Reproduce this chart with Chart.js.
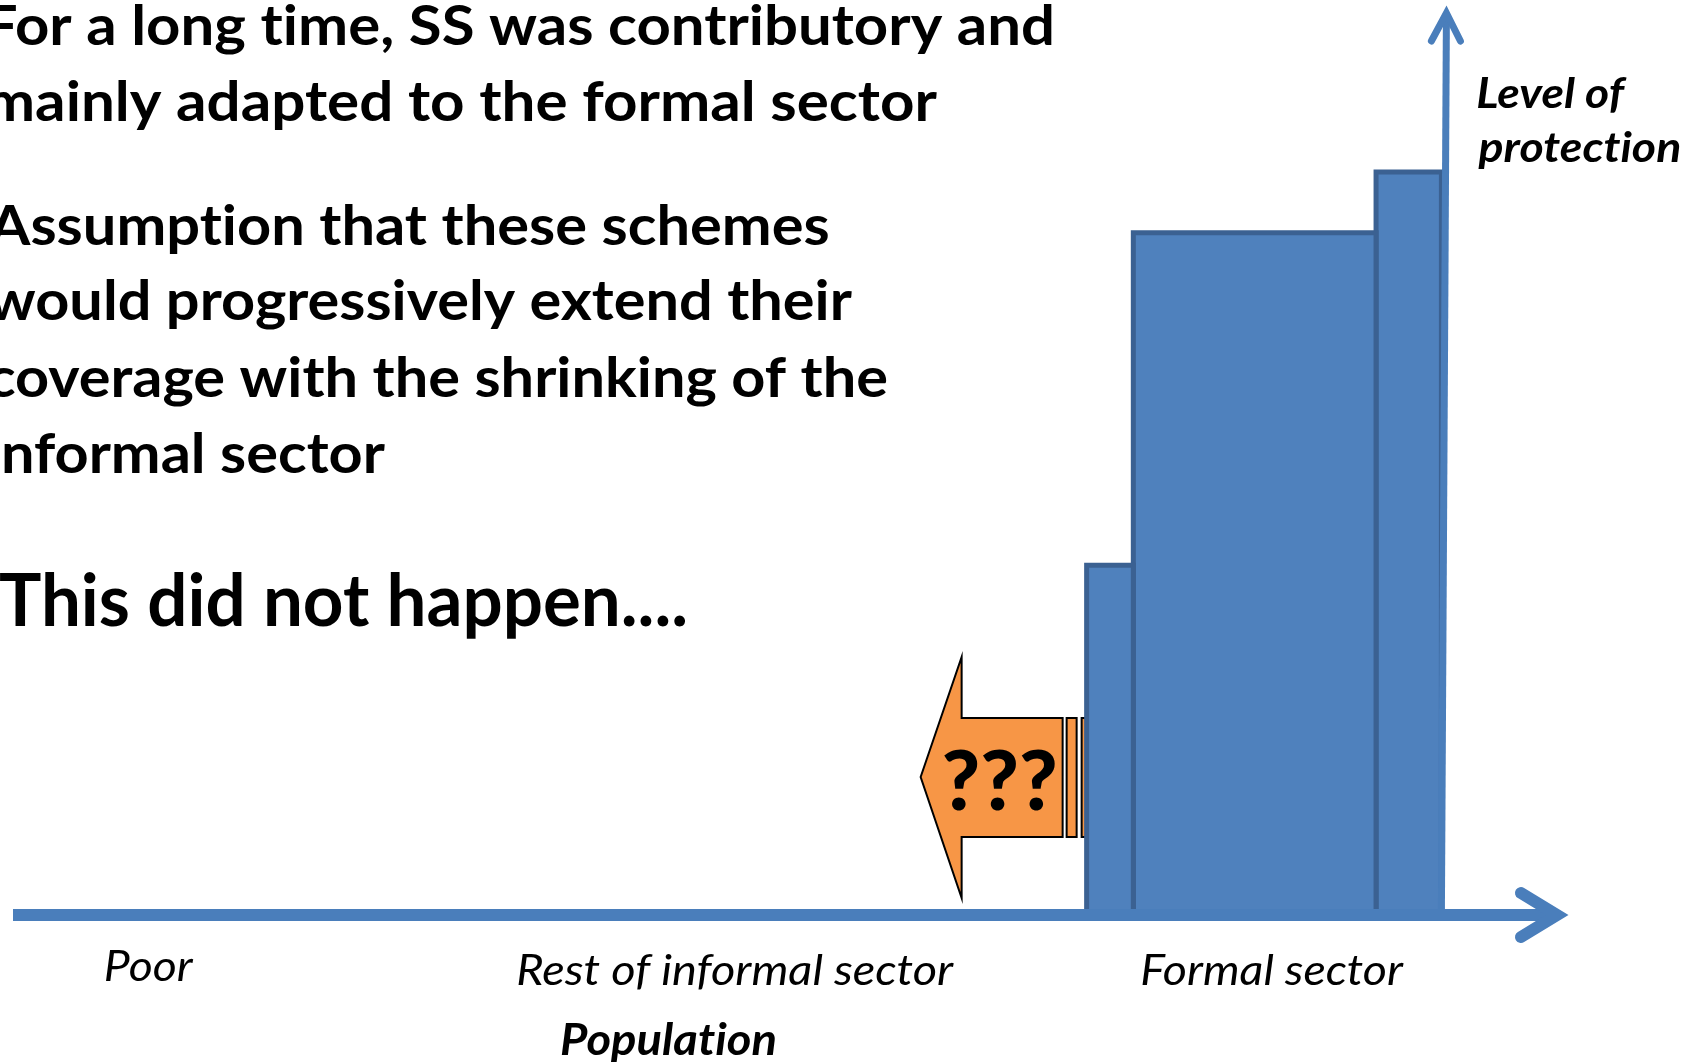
<!DOCTYPE html>
<html lang="en">
<head>
<meta charset="UTF-8">
<title>Level of protection</title>
<script src="https://cdn.jsdelivr.net/npm/chart.js"></script>
<style>
  html, body { margin: 0; padding: 0; background: #fff; overflow: hidden; }
  #wrap { width: 1697px; height: 1062px; }
</style>
</head>
<body>
<div id="wrap"><canvas id="chart" width="1697" height="1062"></canvas></div>
<script>
// population groups along the horizontal axis
const groups = ['Poor', 'Rest of informal sector', 'Formal sector'];
const groupCenters = [8.8, 46.5, 81.0];
const xTitle = 'Population';
const yTitle = ['Level of', 'protection'];

// contributory schemes of the formal sector: edges on the population axis and level of protection
const schemeEdges = [69, 72, 87.6, 91.8];
const schemeLevels = [38.6, 75.3, 82];

const bullets = [
  'For a long time, SS was contributory and',
  'mainly adapted to the formal sector',
  'Assumption that these schemes',
  'would progressively extend their',
  'coverage with the shrinking of the',
  'informal sector'
];
const conclusion = 'This did not happen....';
const arrowText = '???';

const BLUE = '#4F81BD';
const BLUE_DARK = '#3B6192';
const AXIS = '#4A7EBB';

// one closed block per scheme, drawn as a filled line on the linear scales
const datasets = schemeLevels.map((lvl, i) => ({
  data: [
    { x: schemeEdges[i], y: 0 },
    { x: schemeEdges[i], y: lvl },
    { x: schemeEdges[i + 1], y: lvl },
    { x: schemeEdges[i + 1], y: 0 }
  ],
  fill: 'origin',
  backgroundColor: BLUE,
  borderColor: BLUE_DARK,
  borderWidth: 5,
  borderJoinStyle: 'miter',
  pointRadius: 0,
  tension: 0
}));

// draws text so that its ink spans exactly `width` pixels starting at `left`
function fitText(ctx, text, left, baseline, width, font) {
  ctx.save();
  ctx.font = font;
  ctx.textAlign = 'left';
  ctx.textBaseline = 'alphabetic';
  // no "ti" ligatures
  if ('textRendering' in ctx) ctx.textRendering = 'optimizeSpeed';
  if ('letterSpacing' in ctx) ctx.letterSpacing = '0.01px';
  const m = ctx.measureText(text);
  const ink = m.actualBoundingBoxLeft + m.actualBoundingBoxRight;
  const sx = width / ink;
  ctx.translate(left, baseline);
  ctx.scale(sx, 1);
  ctx.fillText(text, m.actualBoundingBoxLeft, 0);
  ctx.restore();
}

const decor = {
  id: 'decor',
  beforeDatasetsDraw(chart) {
    const { ctx, scales: { x, y } } = chart;
    const L = x.getPixelForValue(schemeEdges[0]);
    const B = y.getPixelForValue(0);
    // orange block arrow pointing left, tucked behind the first block
    ctx.save();
    ctx.fillStyle = '#F79646';
    ctx.strokeStyle = '#000';
    ctx.lineWidth = 2;
    ctx.lineJoin = 'miter';
    ctx.beginPath();
    ctx.moveTo(L - 166, B - 138);
    ctx.lineTo(L - 125, B - 258);
    ctx.lineTo(L - 125, B - 197);
    ctx.lineTo(L - 24, B - 197);
    ctx.lineTo(L - 24, B - 78);
    ctx.lineTo(L - 125, B - 78);
    ctx.lineTo(L - 125, B - 17);
    ctx.closePath();
    ctx.fill();
    ctx.stroke();
    ctx.beginPath();
    ctx.rect(L - 20, B - 197, 10, 119);
    ctx.rect(L - 5, B - 197, 8, 119);
    ctx.fill();
    ctx.stroke();
    ctx.fillStyle = '#000';
    fitText(ctx, arrowText, L - 143, B - 105, 112, '900 82px Lato');
    ctx.restore();
  },
  afterDatasetsDraw(chart) {
    const { ctx, chartArea, scales: { x, y } } = chart;
    const y0 = y.getPixelForValue(0);
    const xEnd = x.getPixelForValue(x.max);
    ctx.save();
    ctx.strokeStyle = AXIS;
    ctx.lineCap = 'butt';
    // population axis
    ctx.lineWidth = 12;
    ctx.beginPath();
    ctx.moveTo(chartArea.left, y0);
    ctx.lineTo(xEnd - 20, y0);
    ctx.stroke();
    ctx.lineCap = 'round';
    ctx.lineJoin = 'miter';
    ctx.beginPath();
    ctx.moveTo(xEnd - 48, y0 - 22);
    ctx.lineTo(xEnd - 12, y0);
    ctx.lineTo(xEnd - 48, y0 + 22);
    ctx.stroke();
    // level of protection axis, rising from the end of the formal sector
    const xv = x.getPixelForValue(schemeEdges[schemeEdges.length - 1]);
    const yTop = y.getPixelForValue(y.max);
    ctx.lineWidth = 7;
    ctx.lineCap = 'butt';
    ctx.beginPath();
    ctx.moveTo(xv, y0 - 6);
    ctx.lineTo(xv + 5, yTop + 8);
    ctx.stroke();
    ctx.lineCap = 'round';
    ctx.beginPath();
    ctx.moveTo(xv - 10, yTop + 32);
    ctx.lineTo(xv + 5, yTop + 4);
    ctx.lineTo(xv + 19, yTop + 32);
    ctx.stroke();
    ctx.restore();
  },
  afterDraw(chart) {
    const { ctx, scales: { x, y } } = chart;
    ctx.save();
    ctx.fillStyle = '#000';
    const bulletRight = [1052, 937, 828, 852, 887, 385];
    const bulletBase = [45, 121, 245, 320, 397, 473];
    bullets.forEach((t, i) => {
      fitText(ctx, t, -12, bulletBase[i], bulletRight[i] + 12, 'bold 56px Lato');
    });
    fitText(ctx, conclusion, 0, 626, 685, 'bold 72px Lato');

    const y0 = y.getPixelForValue(0);
    const groupWidths = [88, 436, 262];
    groups.forEach((g, i) => {
      const cx = x.getPixelForValue(groupCenters[i]);
      fitText(ctx, g, cx - groupWidths[i] / 2, y0 + (i === 0 ? 66 : 70), groupWidths[i], 'italic 43px Lato');
    });
    const tx = x.getPixelForValue(42.1);
    fitText(ctx, xTitle, tx - 107, y0 + 140, 214, 'italic bold 44px Lato');

    const ax = x.getPixelForValue(schemeEdges[schemeEdges.length - 1]) + 36;
    fitText(ctx, yTitle[0], ax, 108, 150, 'italic bold 42px Lato');
    fitText(ctx, yTitle[1], ax, 162, 202, 'italic bold 42px Lato');
    ctx.restore();
  }
};

new Chart(document.getElementById('chart'), {
  type: 'line',
  data: { datasets },
  options: {
    responsive: false,
    animation: false,
    layout: { padding: { left: 13, right: 128, top: 9, bottom: 147 } },
    plugins: { legend: { display: false }, tooltip: { enabled: false } },
    scales: {
      x: { type: 'linear', min: 0, max: 100, display: false },
      y: { type: 'linear', min: 0, max: 100, display: false }
    }
  },
  plugins: [decor]
});
</script>
</body>
</html>
